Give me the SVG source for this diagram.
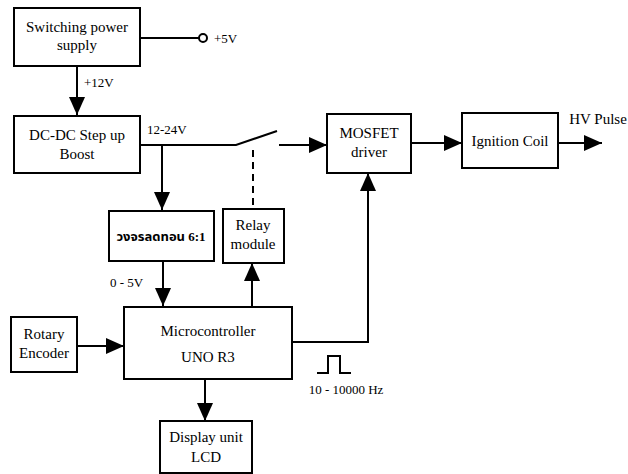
<svg xmlns="http://www.w3.org/2000/svg" width="628" height="474" viewBox="0 0 628 474" font-family="'Liberation Serif', 'Times New Roman', Times, serif">
<defs>
<style>
.box{fill:#fff;stroke:#000;stroke-width:2}
.ln{fill:none;stroke:#000;stroke-width:2}
.t{font-size:15px;text-anchor:middle}
.s{font-size:13px}
.th{font-size:13px;font-weight:bold;text-anchor:middle}
</style>
<marker id="ah" markerWidth="9" markerHeight="8" refX="9" refY="4" orient="auto" markerUnits="strokeWidth">
<path d="M0,0 L9,4 L0,8 Z" fill="#000"/>
</marker>
</defs>
<rect width="628" height="474" fill="#fff"/>
<g id="connectors">
<path class="ln" d="M140,38 H199"/>
<circle cx="203" cy="38" r="4" fill="#fff" stroke="#000" stroke-width="2"/>
<path class="ln" d="M77,66 V115" marker-end="url(#ah)"/>
<path class="ln" d="M140,145 H236 L277,131"/>
<path class="ln" d="M253,150 V209" stroke-dasharray="7,5"/>
<path class="ln" d="M279,145 H327" marker-end="url(#ah)"/>
<path class="ln" d="M162,145 V210" marker-end="url(#ah)"/>
<path class="ln" d="M163,261 V306" marker-end="url(#ah)"/>
<path class="ln" d="M252,307 V263" marker-end="url(#ah)"/>
<path class="ln" d="M411,143 H462" marker-end="url(#ah)"/>
<path class="ln" d="M558,143 H602" marker-end="url(#ah)"/>
<path class="ln" d="M292,342 H368 V173" marker-end="url(#ah)"/>
<path class="ln" d="M77,346 H124" marker-end="url(#ah)"/>
<path class="ln" d="M205,379 V421" marker-end="url(#ah)"/>
<path class="ln" d="M317,373 H328 V356 H340 V373 H351"/>
</g>
<g id="psu"><rect class="box" x="14" y="8" width="126" height="58"/><text class="t" x="77" y="32">Switching power</text><text class="t" x="77" y="50">supply</text></g>
<g id="v5"><text class="s" x="214" y="43">+5V</text></g>
<g id="v12"><text class="s" x="84" y="87">+12V</text></g>
<g id="boost"><rect class="box" x="14" y="116" width="126" height="57"/><text class="t" x="77" y="140">DC-DC Step up</text><text class="t" x="77" y="159">Boost</text></g>
<g id="v1224"><text class="s" x="147" y="134">12-24V</text></g>
<g id="mosfet"><rect class="box" x="327" y="114" width="84" height="59"/><text class="t" x="369" y="138">MOSFET</text><text class="t" x="369" y="157">driver</text></g>
<g id="coil"><rect class="box" x="462" y="113" width="96" height="55"/><text class="t" x="510" y="146">Ignition Coil</text></g>
<g id="hv"><text class="t" x="598" y="124">HV Pulse</text></g>
<g id="divider"><rect class="box" x="109" y="211" width="105" height="50"/><text class="th" x="161" y="241" font-family="'Liberation Serif', 'Noto Sans Thai', sans-serif">วงจรลดทอน 6:1</text></g>
<g id="relay"><rect class="box" x="223" y="209" width="61" height="54"/><text class="t" x="253" y="230">Relay</text><text class="t" x="253" y="249">module</text></g>
<g id="v05"><text class="s" x="110" y="287">0 - 5V</text></g>
<g id="mcu"><rect class="box" x="124" y="307" width="168" height="72"/><text class="t" x="208" y="336">Microcontroller</text><text class="t" x="208" y="362">UNO R3</text></g>
<g id="encoder"><rect class="box" x="11" y="317" width="66" height="55"/><text class="t" x="44" y="339">Rotary</text><text class="t" x="44" y="358">Encoder</text></g>
<g id="freq"><text class="s" x="346" y="394" text-anchor="middle">10 - 10000 Hz</text></g>
<g id="lcd"><rect class="box" x="160" y="421" width="92" height="52"/><text class="t" x="206" y="442">Display unit</text><text class="t" x="206" y="462">LCD</text></g>
</svg>
